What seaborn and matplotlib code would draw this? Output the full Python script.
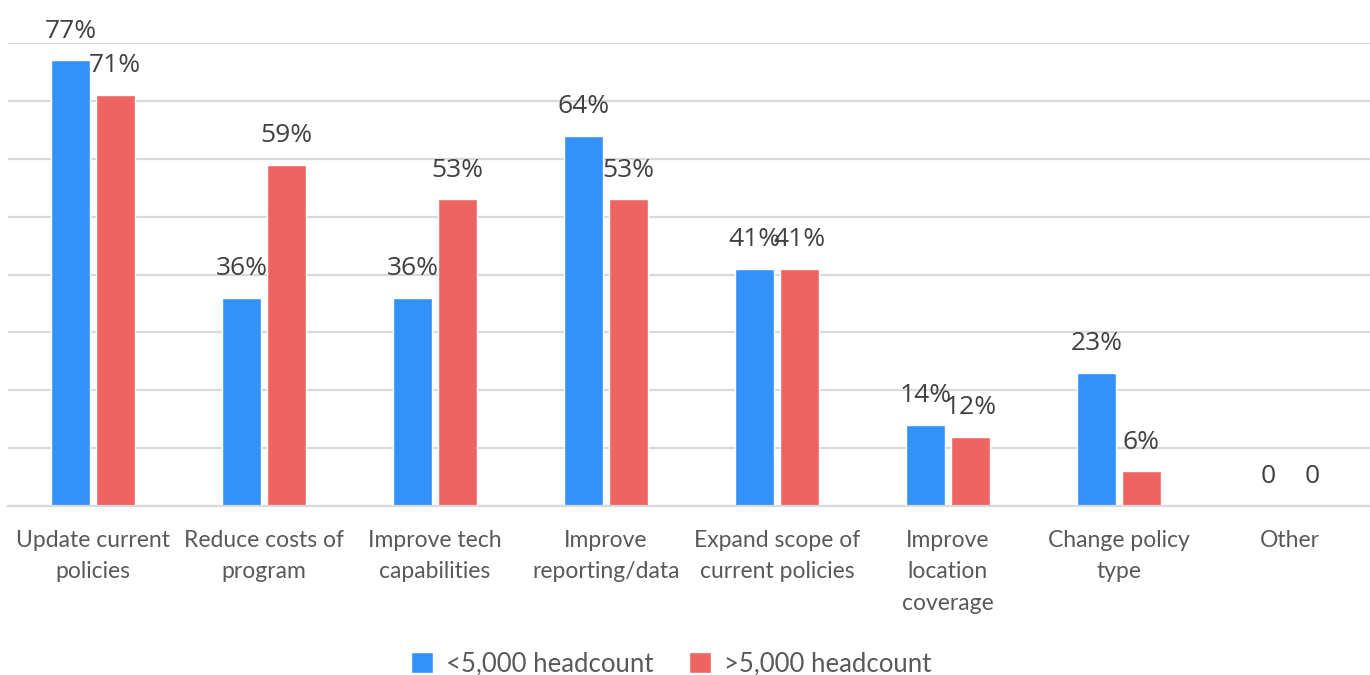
import matplotlib
matplotlib.use("Agg")
import matplotlib.pyplot as plt
import seaborn as sns
import pandas as pd

categories = [
    "Update current\npolicies",
    "Reduce costs of\nprogram",
    "Improve tech\ncapabilities",
    "Improve\nreporting/data",
    "Expand scope of\ncurrent policies",
    "Improve\nlocation\ncoverage",
    "Change policy\ntype",
    "Other",
]
small_org = [77, 36, 36, 64, 41, 14, 23, 0]
large_org = [71, 59, 53, 53, 41, 12, 6, 0]
series_names = ["<5,000 headcount", ">5,000 headcount"]
colors = ["#3392F8", "#EF6461"]

df = pd.DataFrame({
    "category": categories * 2,
    "value": small_org + large_org,
    "group": [series_names[0]] * len(categories) + [series_names[1]] * len(categories),
})

sns.set_theme(style="white")
plt.rcParams["font.family"] = ["Lato", "DejaVu Sans"]

fig = plt.figure(figsize=(13.7, 6.75), dpi=100)
ax = fig.add_axes([7.5 / 1370, 1 - 506 / 675, 1368 / 1370, (506 - 43) / 675])

sns.barplot(
    data=df, x="category", y="value", hue="group",
    palette=colors, width=0.52, gap=0.13, ax=ax, legend=True,
    saturation=1,
)

ax.set_ylim(0, 80)
ax.set_xlim(-0.5, 7.5)
ax.set_yticks(range(0, 81, 10))
ax.yaxis.grid(True, color="#d9d9d9", linewidth=1.6)
ax.set_axisbelow(True)
ax.set_yticklabels([])
ax.tick_params(axis="y", length=0)
ax.tick_params(axis="x", length=0, pad=17, labelsize=16.5, labelcolor="#595959")
for lbl in ax.get_xticklabels():
    lbl.set_linespacing(1.62)
ax.set_xlabel("")
ax.set_ylabel("")
for s in ["top", "right", "left"]:
    ax.spines[s].set_visible(False)
ax.spines["bottom"].set_color("#d9d9d9")
ax.spines["bottom"].set_linewidth(1.6)

for cont in ax.containers:
    labels = [f"{int(v)}%" if v > 0 else "0" for v in cont.datavalues]
    ax.bar_label(cont, labels=labels, padding=12, fontsize=19,
                 color="#404040", clip_on=False,
                 family=["Open Sans", "DejaVu Sans"])

leg = ax.legend(
    loc="center", bbox_to_anchor=(0.485, -0.341), ncol=2, frameon=False,
    fontsize=18.5, handlelength=0.85, handleheight=0.85, handletextpad=0.5,
    columnspacing=1.4,
)
for t in leg.get_texts():
    t.set_color("#595959")

fig.savefig("out.png", dpi=100, facecolor="white")
